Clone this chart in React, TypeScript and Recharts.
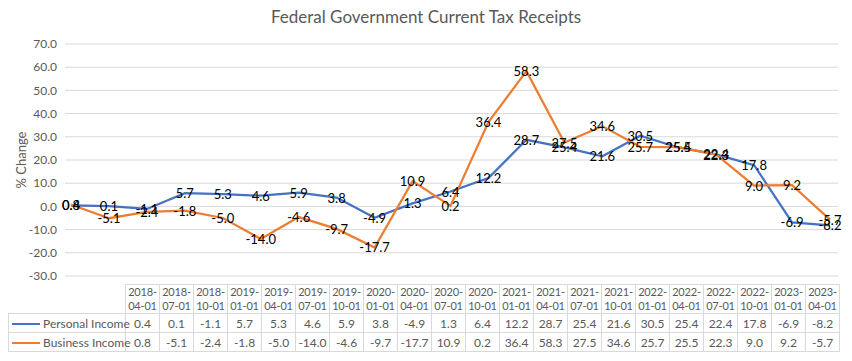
import { LineChart, Line, XAxis, YAxis, CartesianGrid, LabelList } from 'recharts';

const quarters = [
  '2018-04-01', '2018-07-01', '2018-10-01', '2019-01-01', '2019-04-01', '2019-07-01', '2019-10-01',
  '2020-01-01', '2020-04-01', '2020-07-01', '2020-10-01', '2021-01-01', '2021-04-01', '2021-07-01',
  '2021-10-01', '2022-01-01', '2022-04-01', '2022-07-01', '2022-10-01', '2023-01-01', '2023-04-01',
];
const personalIncome = [0.4, 0.1, -1.1, 5.7, 5.3, 4.6, 5.9, 3.8, -4.9, 1.3, 6.4, 12.2, 28.7, 25.4, 21.6, 30.5, 25.4, 22.4, 17.8, -6.9, -8.2];
const businessIncome = [0.8, -5.1, -2.4, -1.8, -5.0, -14.0, -4.6, -9.7, -17.7, 10.9, 0.2, 36.4, 58.3, 27.5, 34.6, 25.7, 25.5, 22.3, 9.0, 9.2, -5.7];
const yTicks = [-30, -20, -10, 0, 10, 20, 30, 40, 50, 60, 70];

const data = quarters.map((q, i) => ({ q, personal: personalIncome[i], business: businessIncome[i] }));

const series = [
  { key: 'personal', name: 'Personal Income', color: '#4472C4', values: personalIncome },
  { key: 'business', name: 'Business Income', color: '#ED7D31', values: businessIncome },
];

const font = 'Lato, "Open Sans", sans-serif';
const gray = '#595959';
const border = '1px solid #D9D9D9';

const renderLabel = (props: any) => {
  const { x, y, value } = props;
  return (
    <text x={x} y={y} textAnchor="middle" dominantBaseline="central" fontSize={13} fill="#000" fontFamily={font}>
      {Number(value).toFixed(1)}
    </text>
  );
};

export default function App() {
  return (
    <div style={{ position: 'relative', width: 852, height: 361, margin: -8, background: '#fff', fontFamily: font }}>
      <div style={{ position: 'absolute', top: 6, left: 0, width: 852, textAlign: 'center', fontSize: 17, color: gray }}>
        Federal Government Current Tax Receipts
      </div>
      <div style={{ position: 'absolute', left: 11, top: 160, transform: 'translate(-50%, -50%) rotate(-90deg)', transformOrigin: 'center', marginLeft: 10, fontSize: 13, color: gray, whiteSpace: 'nowrap' }}>
        % Change
      </div>
      <LineChart width={852} height={361} data={data} margin={{ top: 44, right: 14, bottom: 85, left: 8 }}>
        <CartesianGrid vertical={false} stroke="#D9D9D9" />
        <XAxis dataKey="q" hide scale="point" padding={{ left: 6, right: 8 }} />
        <YAxis
          width={57}
          domain={[-30, 70]}
          ticks={yTicks}
          interval={0}
          axisLine={false}
          tickLine={false}
          tickFormatter={(v: number) => v.toFixed(1)}
          tick={{ fill: gray, fontSize: 12, fontFamily: font }}
        />
        {series.map((s) => (
          <Line key={s.key} dataKey={s.key} stroke={s.color} strokeWidth={2.25} dot={false} isAnimationActive={false}>
            <LabelList dataKey={s.key} content={renderLabel} />
          </Line>
        ))}
      </LineChart>
      <table
        style={{
          position: 'absolute', left: 8, top: 284, borderCollapse: 'collapse', tableLayout: 'fixed',
          width: 832, fontSize: 11, letterSpacing: -0.2, color: gray, fontFamily: font,
        }}
      >
        <colgroup>
          <col style={{ width: 117 }} />
          {quarters.map((q) => <col key={q} />)}
        </colgroup>
        <tbody>
          <tr style={{ height: 29 }}>
            <td />
            {quarters.map((q) => (
              <td key={q} style={{ border, textAlign: 'center', lineHeight: '14px', padding: 0, overflow: 'hidden' }}>
                {q.slice(0, 5)}<br />{q.slice(5)}
              </td>
            ))}
          </tr>
          {series.map((s) => (
            <tr key={s.key} style={{ height: 19 }}>
              <td style={{ border, padding: 0, whiteSpace: 'nowrap', fontSize: 12, letterSpacing: 0 }}>
                <span style={{ display: 'inline-block', width: 28, height: 2, background: s.color, verticalAlign: 'middle', margin: '0 3px 0 3px' }} />
                {s.name}
              </td>
              {s.values.map((v, i) => (
                <td key={i} style={{ border, textAlign: 'center', padding: 0, fontSize: 12, letterSpacing: 0 }}>{v.toFixed(1)}</td>
              ))}
            </tr>
          ))}
        </tbody>
      </table>
    </div>
  );
}
